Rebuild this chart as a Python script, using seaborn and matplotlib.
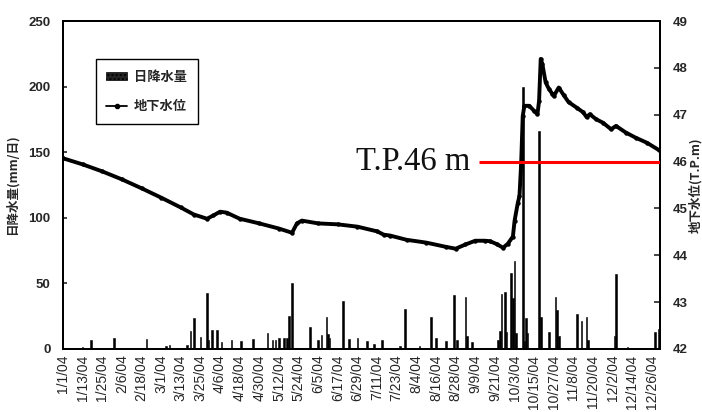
import numpy as np
import pandas as pd
import matplotlib
matplotlib.use("Agg")
import matplotlib.pyplot as plt
from matplotlib.patches import Patch
from matplotlib.lines import Line2D
import seaborn as sns

# ---- data -------------------------------------------------------------
YEAR_START = pd.Timestamp("2004-01-01")

# daily precipitation (mm/day); day index 0 = 1 Jan 2004
rain_day = [12, 17, 31, 51, 59, 63, 65, 76, 78, 80, 84, 88, 89, 91, 94, 97,
            103, 109, 116, 125, 128, 130, 132, 135, 137, 138, 140, 151, 156,
            158, 161, 162, 163, 171, 175, 180, 186, 190, 195, 206, 209, 218,
            225, 228, 234, 239, 241, 246, 247, 250, 266, 267, 268, 270, 271,
            274, 275, 276, 277, 281, 282, 283, 284, 291, 292, 297, 301, 302,
            303, 314, 317, 320, 321, 337, 338, 345, 362, 364]
rain_mm = [1.5, 6.5, 8.5, 7.5, 1, 2, 3, 3, 14, 23.5, 9.5, 42.5, 7, 14.5,
           14.5, 5, 7, 6, 7.5, 12, 7, 6.5, 8.5, 8, 8, 25, 50.5, 17, 7, 10.5,
           24.5, 11.5, 8, 36.5, 7.5, 8.5, 6, 4, 7, 2.5, 30.5, 2.5, 24, 8, 6,
           41.5, 7, 39.5, 10, 5, 7, 13.5, 42, 43.5, 13, 58, 39, 67, 12, 200,
           6, 23.5, 12, 166, 24, 13, 39.5, 30, 10, 26.5, 21, 24.5, 7, 10,
           57.5, 1.5, 13, 15]

# groundwater level (T.P. m); NaN marks the missing record in July
gw_day = [0, 12, 24, 36, 48, 60, 72, 80, 88, 92, 96, 100, 108, 120, 132,
          140, 143, 146, 156, 168, 180, 192, 196, 197, 200, 210, 222, 234,
          240, 246, 252, 258, 261, 265, 269, 272, 275, 276, 278, 279, 280,
          281, 282, 285, 288, 290, 291, 292, 293, 295, 297, 299, 300, 303,
          306, 309, 314, 318, 320, 322, 326, 330, 335, 338, 344, 350, 357,
          364]
gw_level = [46.07, 45.94, 45.79, 45.62, 45.43, 45.23, 45.02, 44.87, 44.78,
            44.85, 44.93, 44.91, 44.78, 44.68, 44.57, 44.48, 44.68, 44.74,
            44.68, 44.66, 44.61, 44.51, 44.44, np.nan, 44.42, 44.33, 44.27,
            44.18, 44.14, 44.23, 44.31, 44.31, 44.30, 44.24, 44.16, 44.25,
            44.40, 44.73, 45.12, 45.26, 45.92, 46.97, 47.19, 47.19, 47.08,
            47.01, 47.30, 48.19, 48.08, 47.69, 47.55, 47.45, 47.40, 47.58,
            47.42, 47.27, 47.15, 47.05, 46.95, 47.01, 46.90, 46.83, 46.69,
            46.76, 46.62, 46.51, 46.40, 46.25]

tick_labels = ["1/1/04", "1/13/04", "1/25/04", "2/6/04", "2/18/04", "3/1/04",
               "3/13/04", "3/25/04", "4/6/04", "4/18/04", "4/30/04",
               "5/12/04", "5/24/04", "6/5/04", "6/17/04", "6/29/04",
               "7/11/04", "7/23/04", "8/4/04", "8/16/04", "8/28/04",
               "9/9/04", "9/21/04", "10/3/04", "10/15/04", "10/27/04",
               "11/8/04", "11/20/04", "12/2/04", "12/14/04", "12/26/04"]

rain_ticks = [0, 50, 100, 150, 200, 250]
level_ticks = [42, 43, 44, 45, 46, 47, 48, 49]

TP_LEVEL = 46
TP_LABEL = "T.P.46 m"
TP_FROM = "2004-09-11"

# ---- frames -----------------------------------------------------------
rain = pd.DataFrame({"date": YEAR_START + pd.to_timedelta(rain_day, unit="D"),
                     "mm": rain_mm})
gw = pd.DataFrame({"date": YEAR_START + pd.to_timedelta(gw_day, unit="D"),
                   "level": gw_level})
tick_dates = pd.to_datetime(tick_labels, format="%m/%d/%y")

# ---- style ------------------------------------------------------------
sns.set_theme(style="ticks")
plt.rcParams["font.family"] = ["Liberation Sans", "Noto Sans CJK JP"]
jp = ["Noto Sans CJK JP", "DejaVu Sans"]

fig = plt.figure(figsize=(7.02, 4.12), dpi=100)
ax = fig.add_axes([0.0897, 0.153, 0.8507, 0.796])
ax2 = ax.twinx()

# precipitation bars
ax.bar(rain["date"], rain["mm"], width=1.0, color="black",
       edgecolor="black", linewidth=0.4, align="center", zorder=2)

# groundwater level line
sns.lineplot(data=gw, x="date", y="level", ax=ax2, color="black",
             linewidth=2.8, marker="o", markersize=3.2, markeredgewidth=0,
             estimator=None, sort=False, zorder=3)

# reference level
tp_start = pd.Timestamp(TP_FROM)
xend = pd.Timestamp("2004-12-31")
ax2.plot([tp_start, xend], [TP_LEVEL, TP_LEVEL], color="red", lw=2.2,
         zorder=4, solid_capstyle="butt")
ax2.annotate(TP_LABEL, xy=(tp_start, TP_LEVEL), xytext=(-6, 0),
             textcoords="offset points", ha="right", va="center",
             fontsize=23.5, family="Liberation Serif", color="#111111")

# axes limits and ticks
ax.set_xlim(YEAR_START, xend)
ax.set_ylim(0, 250)
ax2.set_ylim(42, 49)
ax.set_yticks(rain_ticks)
ax2.set_yticks(level_ticks)
ax.set_xticks(tick_dates)
ax.set_xticklabels(tick_labels, rotation=90, fontsize=10)
ax.tick_params(axis="x", direction="in", length=0, pad=4)
ax.tick_params(axis="y", direction="in", length=3, width=1.2, pad=9,
               labelsize=9.5)
ax2.tick_params(axis="y", direction="in", length=4, width=1.2, pad=9,
                labelsize=9.5)
for t in ax.get_yticklabels() + ax2.get_yticklabels():
    t.set_fontweight("bold")

ax.set_xlabel("")
ax2.set_xlabel("")
ax.set_ylabel("日降水量(mm/日)", family=jp, fontsize=9, fontweight="bold",
              labelpad=7)
ax2.set_ylabel("地下水位(T.P.m)", family=jp, fontsize=9, fontweight="bold",
               rotation=90, labelpad=1)

for a in (ax, ax2):
    for s in a.spines.values():
        s.set_visible(True)
        s.set_linewidth(1.4)
        s.set_color("black")

# legend
handles = [Patch(facecolor="#222222", edgecolor="black", hatch="....",
                 linewidth=0.5),
           Line2D([0], [0], color="black", lw=1.3, marker="o", markersize=3)]
leg = ax.legend(handles, ["日降水量", "地下水位"], loc="upper left",
                bbox_to_anchor=(0.055, 0.884), frameon=True, fancybox=False,
                edgecolor="black", framealpha=1, borderpad=0.8,
                labelspacing=1.2, handlelength=1.6, handleheight=0.5,
                handletextpad=0.5, borderaxespad=0,
                prop={"family": jp, "size": 9.5, "weight": "bold"})
leg.get_frame().set_linewidth(1.0)

fig.savefig("out.png", dpi=100)
